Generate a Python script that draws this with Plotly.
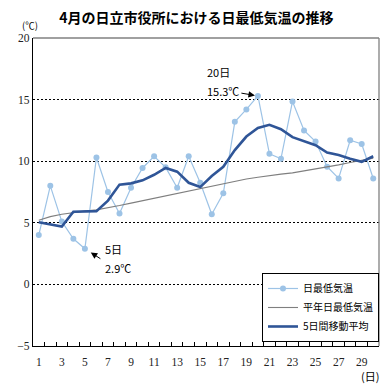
import plotly.graph_objects as go

days = list(range(1, 31))
daily_min = [4.0, 8.0, 5.1, 3.7, 2.9, 10.3, 7.5, 5.75, 7.85, 9.45,
             10.4, 9.5, 7.85, 10.4, 8.25, 5.7, 7.4, 13.2, 14.2, 15.3,
             10.6, 10.2, 14.85, 12.5, 11.6, 9.55, 8.6, 11.7, 11.4, 8.6]
normal_min = [5.2, 5.5, 5.7, 5.85, 5.95, 6.05, 6.2, 6.4, 6.6, 6.8,
              7.0, 7.15, 7.35, 7.55, 7.75, 7.95, 8.15, 8.35, 8.55, 8.7,
              8.85, 8.95, 9.05, 9.2, 9.35, 9.5, 9.7, 9.9, 10.05, 10.25]
moving_avg = [5.05, 4.9, 4.7, 5.9, 5.95, 5.95, 6.8, 8.1, 8.2, 8.45,
              8.9, 9.45, 9.15, 8.25, 7.9, 8.8, 9.55, 10.9, 12.0, 12.7,
              12.95, 12.6, 11.95, 11.65, 11.3, 10.7, 10.5, 10.2, 9.95, 10.4]
x_tick_labels = [str(d) for d in range(1, 30, 2)]
y_ticks = [-5, 0, 5, 10, 15, 20]

JP = "Noto Sans CJK JP"
SERIF = "Liberation Serif"

fig = go.Figure()
fig.add_trace(go.Scatter(
    x=days, y=daily_min, name="日最低気温", mode="lines+markers",
    line=dict(color="#9DC3E6", width=1.2),
    marker=dict(color="#9DC3E6", size=6)))
fig.add_trace(go.Scatter(
    x=days, y=normal_min, name="平年日最低気温", mode="lines",
    line=dict(color="#7F7F7F", width=1.1)))
fig.add_trace(go.Scatter(
    x=days, y=moving_avg, name="5日間移動平均", mode="lines",
    line=dict(color="#2F5597", width=2.6)))
# invisible helper trace for the boundary tick axis
fig.add_trace(go.Scatter(x=[1], y=[None], xaxis="x2", showlegend=False,
                         hoverinfo="skip", mode="lines"))

fig.update_layout(
    width=388, height=390,
    margin=dict(l=33, r=9, t=38, b=44),
    paper_bgcolor="white", plot_bgcolor="white",
    showlegend=True,
    title=dict(text="<b>4月の日立市役所における日最低気温の推移</b>",
               x=0.506, xanchor="center", y=1 - 18 / 390, yanchor="middle",
               yref="container",
               font=dict(family=JP, size=14, color="#000")),
    xaxis=dict(range=[0.5, 30.5], tickvals=list(range(1, 30, 2)),
               ticktext=x_tick_labels, ticks="outside", ticklen=5,
               tickcolor="rgba(0,0,0,0)",
               showline=True, linecolor="#000", linewidth=1.3,
               showgrid=False, zeroline=False,
               tickfont=dict(family=SERIF, size=11.5, color="#222")),
    xaxis2=dict(range=[0.5, 30.5], overlaying="x", side="bottom",
                tickvals=[d + 0.5 for d in range(1, 30)],
                ticks="inside", ticklen=4, tickcolor="#000",
                showticklabels=False, showgrid=False, zeroline=False,
                showline=False),
    yaxis=dict(range=[-5, 20], tickvals=y_ticks, ticks="",
               showline=True, linecolor="#000", linewidth=1.3,
               showgrid=True, gridcolor="#000", gridwidth=1,
               griddash="2px,2px", zeroline=False,
               tickfont=dict(family=SERIF, size=11.5, color="#222")),
    legend=dict(x=1, xanchor="right", y=0.013, yanchor="bottom",
                bgcolor="white", bordercolor="#000", borderwidth=1,
                font=dict(family=JP, size=10, color="#000"),
                itemwidth=30, tracegroupgap=0),
)

# grey top/right frame
fig.add_shape(type="line", xref="paper", yref="paper", x0=0, x1=1, y0=1, y1=1,
              line=dict(color="#808080", width=1.3), layer="above")
fig.add_shape(type="line", xref="paper", yref="paper", x0=1, x1=1, y0=0, y1=1,
              line=dict(color="#808080", width=1.3), layer="above")

# unit labels
fig.add_annotation(text="(℃)", xref="paper", yref="paper",
                   x=-3 / 346, y=1 + 13 / 308, xanchor="center", yanchor="middle",
                   showarrow=False, font=dict(family=JP, size=9.5, color="#000"))
fig.add_annotation(text="(日)", xref="paper", yref="paper",
                   x=1 - 9 / 346, y=-30 / 308, xanchor="center", yanchor="middle",
                   showarrow=False, font=dict(family=JP, size=11, color="#000"))

# callouts
ann_font = dict(family=JP, size=11, color="#000")
fig.add_annotation(x=20, y=15.3, xref="x", yref="y", text="", showarrow=True,
                   ax=-18, ay=-3, axref="pixel", ayref="pixel",
                   arrowhead=2, arrowsize=1.3, arrowwidth=1, arrowcolor="#000",
                   standoff=3)
fig.add_annotation(x=15.45, y=17.25, xref="x", yref="y", text="20日",
                   xanchor="left", yanchor="middle", showarrow=False, font=ann_font)
fig.add_annotation(x=15.45, y=15.7, xref="x", yref="y", text="15.3℃",
                   xanchor="left", yanchor="middle", showarrow=False, font=ann_font)

fig.add_annotation(x=5, y=2.9, xref="x", yref="y", text="", showarrow=True,
                   ax=17, ay=11, axref="pixel", ayref="pixel",
                   arrowhead=2, arrowsize=1.3, arrowwidth=1, arrowcolor="#000",
                   standoff=7)
fig.add_annotation(x=6.55, y=2.85, xref="x", yref="y", text="5日",
                   xanchor="left", yanchor="middle", showarrow=False, font=ann_font)
fig.add_annotation(x=6.55, y=1.35, xref="x", yref="y", text="2.9℃",
                   xanchor="left", yanchor="middle", showarrow=False, font=ann_font)

fig.write_html("out.html", config={"displayModeBar": False},
               post_script="document.body.style.margin='0px';")
